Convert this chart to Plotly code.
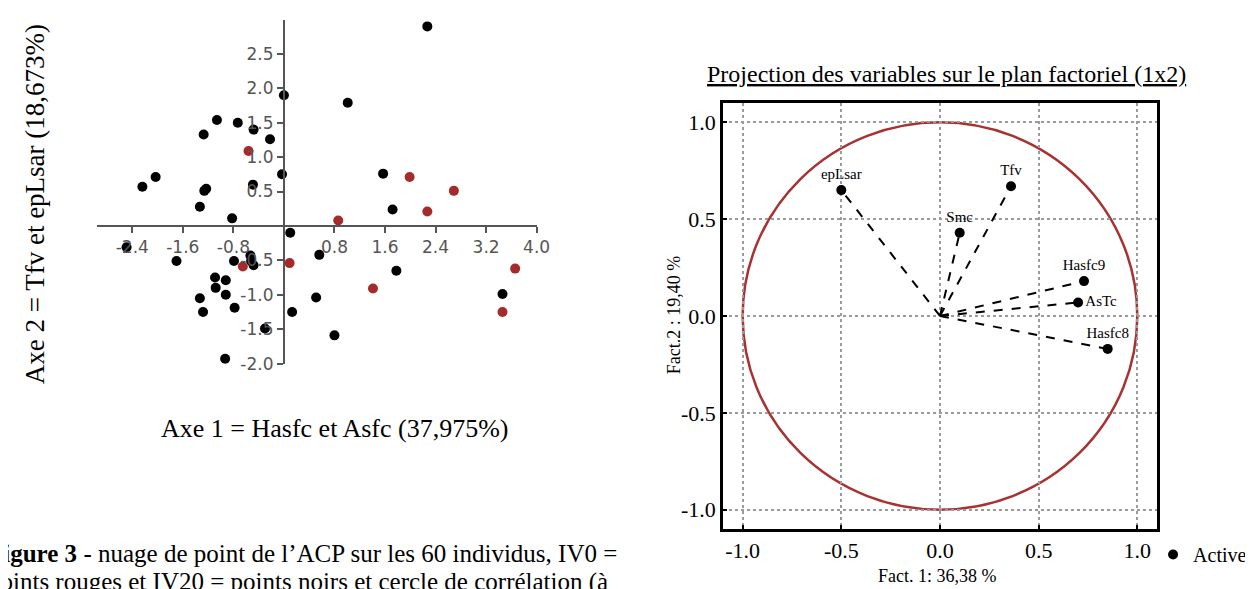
import plotly.graph_objects as go

W, H = 1253, 589

# nuage de points (ACP) : IV20 = noirs, IV0 = rouges
iv20_x = [0.0, -1.06, -1.27, -0.73, -0.48, -0.22, -0.03, -0.49, -2.03, -2.24,
          -1.26, -1.23, 2.27, 1.01, 1.57, -1.33, -0.82, 0.10, -2.49, -1.70,
          -0.79, -0.53, -0.52, -0.48, 0.56, -1.09, -0.92, -1.08, -0.92, -1.33,
          -1.28, -0.78, 0.13, 0.51, -0.30, 0.80, -0.93, 1.72, 1.78, 3.46]
iv20_y = [1.90, 1.54, 1.33, 1.50, 1.40, 1.26, 0.75, 0.60, 0.71, 0.57,
          0.51, 0.54, 2.90, 1.79, 0.76, 0.28, 0.11, -0.10, -0.31, -0.51,
          -0.51, -0.43, -0.51, -0.57, -0.42, -0.75, -0.79, -0.90, -1.00, -1.05,
          -1.25, -1.19, -1.25, -1.04, -1.49, -1.59, -1.93, 0.24, -0.65, -0.99]
iv0_x = [-0.56, 1.99, 2.69, 0.86, -0.65, 0.09, 1.41, 2.27, 3.66, 3.46]
iv0_y = [1.09, 0.71, 0.51, 0.08, -0.59, -0.54, -0.91, 0.21, -0.62, -1.25]

x1_ticks = [-2.4, -1.6, -0.8, 0.8, 1.6, 2.4, 3.2, 4.0]
y1_ticks = [-2.0, -1.5, -1.0, -0.5, 0.5, 1.0, 1.5, 2.0, 2.5]

# cercle de corrélation
var_names = ["epLsar", "Tfv", "Smc", "Hasfc9", "AsTc", "Hasfc8"]
var_x = [-0.50, 0.36, 0.10, 0.73, 0.70, 0.85]
var_y = [0.65, 0.67, 0.43, 0.18, 0.07, -0.17]
var_pos = ["top center", "top center", "top center", "top center",
           "middle right", "top center"]
circle_ticks = [-1.0, -0.5, 0.0, 0.5, 1.0]
circle_ticktext = ["-1.0", "-0.5", "0.0", "0.5", "1.0"]

RED = "#a52a2a"
SERIF = "Liberation Serif"


def px_x(p):
    return p / W


def px_y(p):
    return 1 - p / H


fig = go.Figure()

fig.add_trace(go.Scatter(x=iv20_x, y=iv20_y, mode="markers", showlegend=False,
                         marker=dict(color="black", size=10), cliponaxis=False,
                         xaxis="x", yaxis="y"))
fig.add_trace(go.Scatter(x=iv0_x, y=iv0_y, mode="markers", showlegend=False,
                         marker=dict(color=RED, size=10), cliponaxis=False,
                         xaxis="x", yaxis="y"))

# flèches pointillées depuis l'origine
for vx, vy in zip(var_x, var_y):
    fig.add_trace(go.Scatter(x=[0, vx], y=[0, vy], mode="lines", showlegend=False,
                             line=dict(color="black", width=2, dash="dash"),
                             xaxis="x2", yaxis="y2"))

fig.add_trace(go.Scatter(x=var_x, y=var_y, mode="markers+text", name="Active",
                         text=var_names, textposition=var_pos,
                         textfont=dict(family=SERIF, size=15, color="black"),
                         marker=dict(color="black", size=10),
                         xaxis="x2", yaxis="y2"))

fig.add_shape(type="circle", xref="x2", yref="y2", x0=-1, y0=-1, x1=1, y1=1,
              line=dict(color="#a83232", width=2.5), layer="below")

tick_font = dict(family="DejaVu Sans", size=17, color="#555555")
frame = dict(showline=True, linecolor="black", linewidth=2.5, mirror=True,
             showgrid=True, gridcolor="#9a9a9a", gridwidth=1.5, griddash="dot",
             zeroline=False, ticks="inside", ticklen=4, tickwidth=2,
             tickcolor="black", range=[-1.1, 1.1], tickvals=circle_ticks,
             ticktext=circle_ticktext,
             tickfont=dict(family=SERIF, size=22, color="black"))

fig.update_layout(
    width=W, height=H,
    margin=dict(l=0, r=0, t=0, b=0),
    paper_bgcolor="white", plot_bgcolor="white",
    xaxis=dict(domain=[px_x(89.9), px_x(534.6)], range=[-2.96, 4.0],
               anchor="free", position=px_y(221.7),
               showline=True, linecolor="#555555", linewidth=2,
               ticks="outside", ticklen=6, tickwidth=2, tickcolor="#555555",
               tickvals=x1_ticks, ticktext=[f"{v:.1f}" for v in x1_ticks],
               tickfont=tick_font, showgrid=False, zeroline=False),
    yaxis=dict(domain=[px_y(361.7), px_y(11.7)], range=[-2.0, 3.0],
               anchor="free", position=px_x(279),
               showline=True, linecolor="#555555", linewidth=2,
               ticks="outside", ticklen=6, tickwidth=2, tickcolor="#555555",
               tickvals=y1_ticks, ticktext=[f"{v:.1f}" for v in y1_ticks],
               tickfont=tick_font, showgrid=False, zeroline=False),
    xaxis2=dict(domain=[px_x(723), px_x(1162)], anchor="y2", **frame),
    yaxis2=dict(domain=[px_y(530), px_y(96.6)], anchor="x2", **frame),
    legend=dict(x=px_x(1158), y=px_y(556), xanchor="left", yanchor="middle",
                font=dict(family=SERIF, size=20, color="black"),
                bgcolor="rgba(0,0,0,0)", itemwidth=30),
)

annots = [
    dict(text="Axe 2 = Tfv et epLsar (18,673%)", x=px_x(27), y=px_y(200),
         textangle=-90, size=27),
    dict(text="Axe 1 = Hasfc et Asfc (37,975%)", x=px_x(331), y=px_y(428), size=26),
    dict(text="<u>Projection des variables sur le plan factoriel (1x2)</u>",
         x=px_x(949), y=px_y(67), size=24),
    dict(text="Fact. 1: 36,38 %", x=px_x(940), y=px_y(578), size=18),
    dict(text="Fact.2 : 19,40 %", x=px_x(673), y=px_y(312), textangle=-90, size=18),
]
for a in annots:
    fig.add_annotation(text=a["text"], x=a["x"], y=a["y"], xref="paper", yref="paper",
                       showarrow=False, textangle=a.get("textangle", 0),
                       font=dict(family=SERIF, size=a["size"], color="black"),
                       xanchor="center", yanchor="middle")

# légende de la figure (coupée à gauche et en bas comme dans le document)
caption = ["<b>Figure 3</b> - nuage de point de l’ACP sur les 60 individus, IV0 =",
           "points rouges et IV20 = points noirs et cercle de corrélation (à"]
for line, cy in zip(caption, [555, 584]):
    fig.add_annotation(text=line, x=px_x(-22), y=px_y(cy), xref="paper", yref="paper",
                       showarrow=False, xanchor="left", yanchor="middle", align="left",
                       font=dict(family=SERIF, size=25, color="black"))

fig.write_html("out.html")
